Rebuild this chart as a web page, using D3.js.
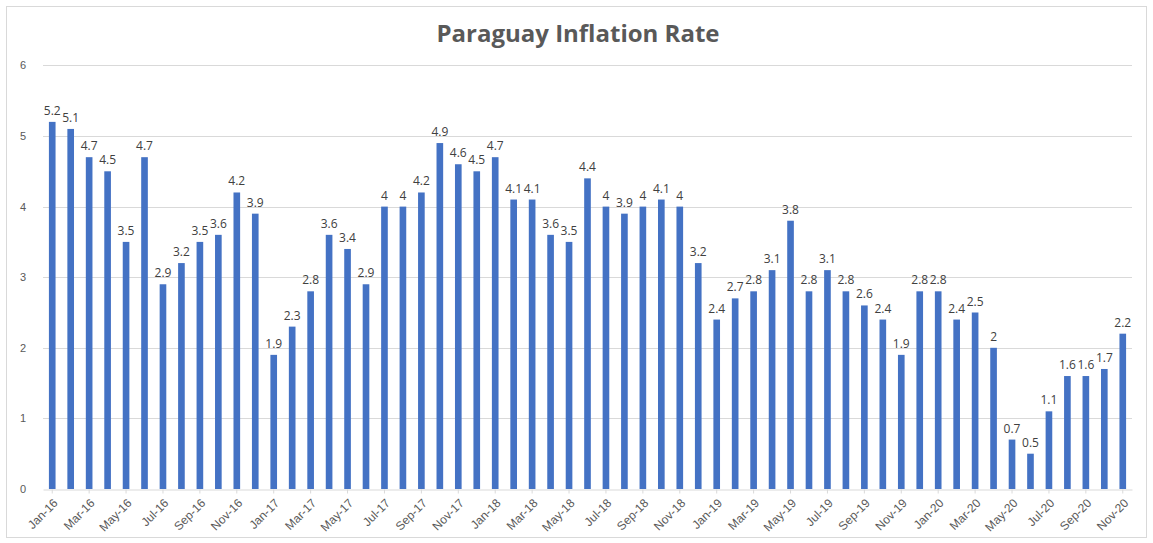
<!DOCTYPE html>
<html><head><meta charset="utf-8">
<script src="https://cdnjs.cloudflare.com/ajax/libs/d3/7.8.5/d3.min.js"></script>
<style>body{margin:0;background:#fff;}svg{display:block;font-family:"Open Sans","Liberation Sans",sans-serif;}</style>
</head><body><svg id="c" width="1153" height="543"></svg>
<script>
const title = "Paraguay Inflation Rate";
const years = ["16","17","18","19","20"];
const monthNames = ["Jan","Feb","Mar","Apr","May","Jun","Jul","Aug","Sep","Oct","Nov","Dec"];
const values2016 = [5.2,5.1,4.7,4.5,3.5,4.7,2.9,3.2,3.5,3.6,4.2,3.9];
const values2017 = [1.9,2.3,2.8,3.6,3.4,2.9,4,4,4.2,4.9,4.6,4.5];
const values2018 = [4.7,4.1,4.1,3.6,3.5,4.4,4,3.9,4,4.1,4,3.2];
const values2019 = [2.4,2.7,2.8,3.1,3.8,2.8,3.1,2.8,2.6,2.4,1.9,2.8];
const values2020 = [2.8,2.4,2.5,2,0.7,0.5,1.1,1.6,1.6,1.7,2.2];
const yTicks = [0,1,2,3,4,5,6];

const values = [].concat(values2016,values2017,values2018,values2019,values2020);
const categories = values.map((v,i)=>monthNames[i%12]+"-"+years[Math.floor(i/12)]);
const data = categories.map((c,i)=>({cat:c,val:values[i]}));

const svg = d3.select("#c");
svg.append("rect").attr("x",6.5).attr("y",6.5).attr("width",1140).attr("height",531)
  .attr("fill","#fff").attr("stroke","#d9d9d9");

const x = d3.scaleBand().domain(categories).range([43,1132]).paddingInner(0.64).paddingOuter(0.32);
const y = d3.scaleLinear().domain([0,6]).range([489,65.4]);

svg.append("text").attr("x",578).attr("y",42).attr("text-anchor","middle")
  .attr("font-size",24).attr("font-weight","bold").attr("fill","#595959").text(title);

// gridlines
svg.append("g").selectAll("line").data(yTicks.filter(t=>t>0)).join("line")
  .attr("x1",43).attr("x2",1132).attr("y1",d=>Math.round(y(d))+0.5).attr("y2",d=>Math.round(y(d))+0.5)
  .attr("stroke","#d9d9d9");

// y axis
const ya = svg.append("g").attr("transform","translate(43,0)")
  .call(d3.axisLeft(y).tickValues(yTicks).tickFormat(d3.format("d")).tickSize(0).tickPadding(17));
ya.select(".domain").remove();
ya.selectAll("text").attr("font-size",11).attr("fill","#595959");

// bars
svg.append("g").selectAll("rect").data(data).join("rect")
  .attr("x",d=>x(d.cat)).attr("width",x.bandwidth())
  .attr("y",d=>y(d.val)).attr("height",d=>y(0)-y(d.val)).attr("fill","#4472C4");

// data labels
svg.append("g").selectAll("text").data(data).join("text")
  .attr("x",d=>x(d.cat)+x.bandwidth()/2).attr("y",d=>y(d.val)-7)
  .attr("text-anchor","middle").attr("font-size",12).attr("fill","#404040").text(d=>d.val);

// x axis
const xa = svg.append("g").attr("transform","translate(0,"+(y(0)+0.5)+")")
  .call(d3.axisBottom(x).tickValues(categories.filter((c,i)=>i%2===0)).tickSize(4).tickSizeOuter(0));
xa.select(".domain").attr("stroke","#d9d9d9");
xa.selectAll(".tick line").attr("stroke","#d9d9d9");
xa.selectAll("text").attr("font-size",12).attr("fill","#595959")
  .attr("text-anchor","end").attr("x",0).attr("y",0).attr("dx",0).attr("dy","0.75em")
  .attr("transform","translate(0,8) rotate(-45)");
</script></body></html>
